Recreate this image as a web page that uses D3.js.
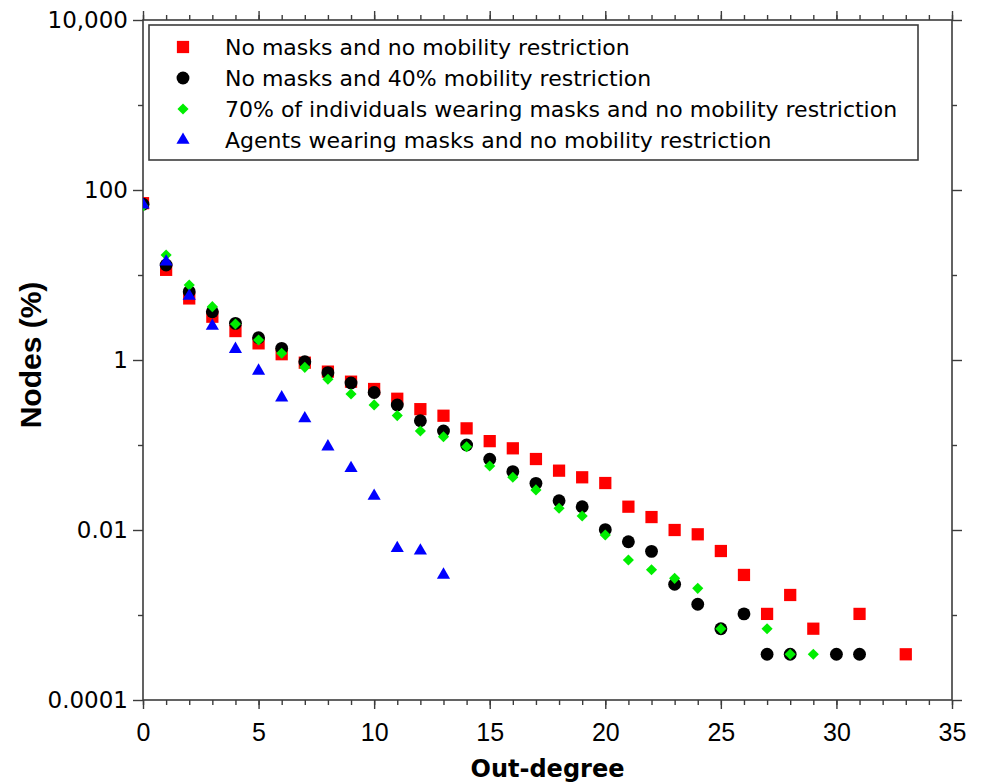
<!DOCTYPE html>
<html>
<head>
<meta charset="utf-8">
<script src="https://cdn.jsdelivr.net/npm/d3@7"></script>
<style>
  html, body { margin: 0; padding: 0; background: #fff; }
  svg { display: block; }
</style>
</head>
<body>
<svg id="chart" width="982" height="782"></svg>
<script>
// Out-degree distributions (percentage of nodes) for four scenarios
const seriesNames = [
  "No masks and no mobility restriction",
  "No masks and 40% mobility restriction",
  "70% of individuals wearing masks and no mobility restriction",
  "Agents wearing masks and no mobility restriction"
];

const redDegree = [0,1,2,3,4,5,6,7,8,9,10,11,12,13,14,15,16,17,18,19,20,21,22,23,24,25,26,27,28,29,31,33];
const redNodes = [70, 11.5, 5.3, 3.23, 2.19, 1.57, 1.17, 0.93, 0.73, 0.556, 0.456, 0.35, 0.264, 0.221,
  0.157, 0.111, 0.0914, 0.0684, 0.0499, 0.0417, 0.0357, 0.0188, 0.0142, 0.0100, 0.0089, 0.00566,
  0.00296, 0.00103, 0.00172, 0.00069, 0.00103, 0.000345];

const blackDegree = [0,1,2,3,4,5,6,7,8,9,10,11,12,13,14,15,16,17,18,19,20,21,22,23,24,25,26,27,28,30,31];
const blackNodes = [68, 13.1, 6.37, 3.7, 2.7, 1.83, 1.37, 0.955, 0.71, 0.536, 0.415, 0.296, 0.193, 0.146,
  0.100, 0.068, 0.0486, 0.0354, 0.0221, 0.0188, 0.0101, 0.00728, 0.00561, 0.0023, 0.00134, 0.00069,
  0.00103, 0.000345, 0.000345, 0.000345, 0.000345];

const greenDegree = [0,1,2,3,4,5,6,7,8,9,10,11,12,13,14,15,16,17,18,19,20,21,22,23,24,25,27,28,29];
const greenNodes = [65, 17.2, 7.62, 4.24, 2.65, 1.72, 1.2, 0.82, 0.593, 0.398, 0.296, 0.222, 0.146, 0.125,
  0.0955, 0.0566, 0.0417, 0.0296, 0.018, 0.0146, 0.00874, 0.00444, 0.00341, 0.0027, 0.00206, 0.00069,
  0.00069, 0.000345, 0.000345];

const blueDegree = [0,1,2,3,4,5,6,7,8,9,10,11,12,13];
const blueNodes = [67, 14.3, 5.66, 2.51, 1.34, 0.743, 0.36, 0.205, 0.0955, 0.0532, 0.0251, 0.0061, 0.0057, 0.00296];

const xMajorTicks = [0, 5, 10, 15, 20, 25, 30, 35];
const xMinorTicks = d3.range(0, 36);
const yMajorTicks = [10000, 100, 1, 0.01, 0.0001];
const yMajorLabels = ["10,000", "100", "1", "0.01", "0.0001"];
const yMinorTicks = [1000, 10, 0.1, 0.001];

const xTitle = "Out-degree";
const yTitle = "Nodes (%)";

// ---- layout
const plotLeft = 143, plotRight = 952, plotTop = 20, plotBottom = 700;
const svg = d3.select("#chart");

const x = d3.scaleLinear().domain([0, 35]).range([plotLeft, plotRight]);
const y = d3.scaleLog().domain([0.0001, 10000]).range([plotBottom, plotTop]);

const axisColor = "#3c3c3c";

function styleAxis(g) {
  g.select(".domain").remove();
  g.selectAll(".tick line").attr("stroke", axisColor).attr("stroke-width", 1.4);
}

// minor ticks (all four sides)
svg.append("g").attr("transform", `translate(0,${plotBottom})`)
  .call(d3.axisBottom(x).tickValues(xMinorTicks).tickSize(5).tickFormat(""))
  .call(styleAxis);
svg.append("g").attr("transform", `translate(0,${plotTop})`)
  .call(d3.axisTop(x).tickValues(xMinorTicks).tickSize(5).tickFormat(""))
  .call(styleAxis);
svg.append("g").attr("transform", `translate(${plotLeft},0)`)
  .call(d3.axisLeft(y).tickValues(yMinorTicks).tickSize(5).tickFormat(""))
  .call(styleAxis);
svg.append("g").attr("transform", `translate(${plotRight},0)`)
  .call(d3.axisRight(y).tickValues(yMinorTicks).tickSize(5).tickFormat(""))
  .call(styleAxis);

// major ticks
const xBottom = svg.append("g").attr("transform", `translate(0,${plotBottom})`)
  .call(d3.axisBottom(x).tickValues(xMajorTicks).tickSize(9).tickPadding(14).tickFormat(d3.format("d")))
  .call(styleAxis);
xBottom.selectAll(".tick text")
  .attr("fill", "#000")
  .style("font-family", "'Liberation Sans', Arial, sans-serif")
  .style("font-size", "25px");

svg.append("g").attr("transform", `translate(0,${plotTop})`)
  .call(d3.axisTop(x).tickValues(xMajorTicks).tickSize(9).tickFormat(""))
  .call(styleAxis);

const yLeft = svg.append("g").attr("transform", `translate(${plotLeft},0)`)
  .call(d3.axisLeft(y).tickValues(yMajorTicks).tickSize(10).tickPadding(5)
    .tickFormat((d, i) => yMajorLabels[i]))
  .call(styleAxis);
yLeft.selectAll(".tick text")
  .attr("fill", "#000")
  .style("font-family", "'DejaVu Sans', Verdana, sans-serif")
  .style("font-size", "23px");

svg.append("g").attr("transform", `translate(${plotRight},0)`)
  .call(d3.axisRight(y).tickValues(yMajorTicks).tickSize(10).tickFormat(""))
  .call(styleAxis);

// frame
svg.append("rect")
  .attr("x", plotLeft).attr("y", plotTop)
  .attr("width", plotRight - plotLeft).attr("height", plotBottom - plotTop)
  .attr("fill", "none").attr("stroke", axisColor).attr("stroke-width", 1.6);

// axis titles
svg.append("text")
  .attr("x", (plotLeft + plotRight) / 2).attr("y", 777)
  .attr("text-anchor", "middle")
  .style("font-family", "'DejaVu Sans', Verdana, sans-serif")
  .style("font-weight", "bold").style("font-size", "24px")
  .text(xTitle);

svg.append("text")
  .attr("transform", `translate(41,355) rotate(-90)`)
  .attr("text-anchor", "middle")
  .style("font-family", "'Liberation Sans', Arial, sans-serif")
  .style("font-weight", "bold").style("font-size", "30px")
  .text(yTitle);

// markers
svg.append("defs").append("clipPath").attr("id", "plot-clip")
  .append("rect").attr("x", plotLeft).attr("y", plotTop)
  .attr("width", plotRight - plotLeft).attr("height", plotBottom - plotTop);

const diamond = {
  draw(ctx, size) {
    const r = Math.sqrt(size / 2);
    ctx.moveTo(0, -r); ctx.lineTo(r, 0); ctx.lineTo(0, r); ctx.lineTo(-r, 0); ctx.closePath();
  }
};

const series = [
  { name: seriesNames[0], xs: redDegree, vs: redNodes, color: "#ff0000", type: d3.symbolSquare, size: 150 },
  { name: seriesNames[1], xs: blackDegree, vs: blackNodes, color: "#000000", type: d3.symbolCircle, size: 130 },
  { name: seriesNames[2], xs: greenDegree, vs: greenNodes, color: "#00ee00", type: diamond, size: 62 },
  { name: seriesNames[3], xs: blueDegree, vs: blueNodes, color: "#0000ff", type: d3.symbolTriangle, size: 75 }
];

const plot = svg.append("g").attr("clip-path", "url(#plot-clip)");
series.forEach(s => {
  const pts = s.xs.map((d, i) => ({ deg: d, val: s.vs[i] }));
  plot.append("g").selectAll("path")
    .data(pts)
    .join("path")
    .attr("transform", d => `translate(${x(d.deg)},${y(d.val)})`)
    .attr("d", d3.symbol().type(s.type).size(s.size))
    .attr("fill", s.color);
});

// legend
const legend = svg.append("g");
legend.append("rect")
  .attr("x", 149).attr("y", 25).attr("width", 769).attr("height", 135)
  .attr("fill", "#fff").attr("stroke", axisColor).attr("stroke-width", 1.6);

series.forEach((s, i) => {
  const cy = 47 + i * 31;
  legend.append("path")
    .attr("transform", `translate(183,${cy})`)
    .attr("d", d3.symbol().type(s.type).size(s.size))
    .attr("fill", s.color);
  legend.append("text")
    .attr("x", 225).attr("y", cy + 8)
    .style("font-family", "'DejaVu Sans', Verdana, sans-serif")
    .style("font-size", "22px")
    .attr("fill", "#000")
    .text(s.name);
});
</script>
</body>
</html>
